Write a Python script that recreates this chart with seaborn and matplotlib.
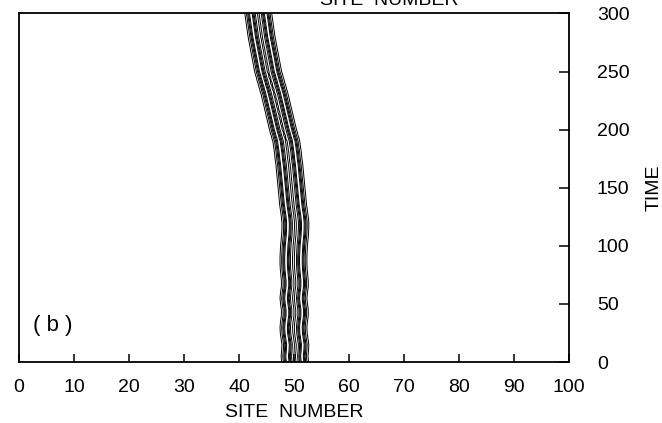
import numpy as np
import matplotlib
matplotlib.use("Agg")
import matplotlib.pyplot as plt
import seaborn as sns

# Track of the two-pulse packet: time steps and the centre of the pair (site number)
time_steps = list(range(0, 301, 5))
pair_centre = [
    50.20, 50.10, 50.20, 50.25, 50.10, 49.95, 49.90, 50.00, 50.15, 50.15,   # 0-45
    50.00, 49.90, 50.00, 50.15, 50.15, 50.05, 49.95, 49.90, 49.90, 49.95,   # 50-95
    50.00, 50.10, 50.20, 50.25, 50.25, 50.15, 50.00, 49.85, 49.75, 49.65,   # 100-145
    49.55, 49.45, 49.35, 49.25, 49.15, 49.00, 48.90, 48.75, 48.60, 48.30,   # 150-195
    48.00, 47.75, 47.50, 47.25, 47.00, 46.75, 46.50, 46.20, 45.90, 45.60,   # 200-245
    45.30, 45.10, 44.90, 44.70, 44.50, 44.30, 44.10, 43.95, 43.80, 43.65,   # 250-295
    43.50,                                                                  # 300
]
pulse_separation = 2.7    # distance between the two pulses (sites)
pulse_width = 0.6         # sech^2 width of each pulse (sites)
contour_levels = [0.1, 0.25, 0.45, 0.65, 0.85]

x_ticks = list(range(0, 101, 10))
y_ticks = list(range(0, 301, 50))

# Occupation field |a_n(t)|^2 built from the two pulses
sites = np.linspace(0, 100, 4001)
t = np.array(time_steps, dtype=float)
c = np.array(pair_centre)[:, None]
X, T = np.meshgrid(sites, t)
left = 1.0 / np.cosh((X - (c - pulse_separation / 2)) / pulse_width) ** 2
right = 1.0 / np.cosh((X - (c + pulse_separation / 2)) / pulse_width) ** 2
field = left + right

sns.set_theme(style="ticks")
plt.rcParams["font.family"] = ["Liberation Sans", "DejaVu Sans"]

fig = plt.figure(figsize=(6.62, 4.23), dpi=100)
ax = fig.add_axes([19 / 662, 1 - 362 / 423, 550 / 662, 348.5 / 423])

ax.contour(X, T, field, levels=contour_levels, colors="black", linewidths=0.7)

ax.set_xlim(0, 100)
ax.set_ylim(0, 300)
ax.set_xticks(x_ticks)
ax.set_yticks(y_ticks)

for side in ["left", "right", "top", "bottom"]:
    ax.spines[side].set_visible(True)
    ax.spines[side].set_color("black")
    ax.spines[side].set_linewidth(1.3)

ax.tick_params(axis="x", direction="in", length=6, width=1.1, color="black",
               bottom=True, top=False, labelsize=14, pad=12, labelcolor="black")
ax.tick_params(axis="y", direction="in", length=7, width=1.1, color="black",
               left=False, right=True, labelleft=False, labelright=True,
               labelsize=14, pad=20, labelcolor="black")

ax.set_xlabel("SITE  NUMBER", fontsize=14, labelpad=6, color="black")
ax.yaxis.set_label_position("right")
ax.set_ylabel("TIME", fontsize=14, labelpad=12, color="black", rotation=90)

ax.text(2.6, 31, "( b )", fontsize=16, ha="left", va="center", color="black")

# Axis title of the panel above, cut by the page edge
fig.text(389 / 662, 1 - 5 / 423, "SITE  NUMBER", fontsize=14, ha="center",
         va="baseline", color="black")

fig.savefig("out.png", dpi=100, facecolor="white")
